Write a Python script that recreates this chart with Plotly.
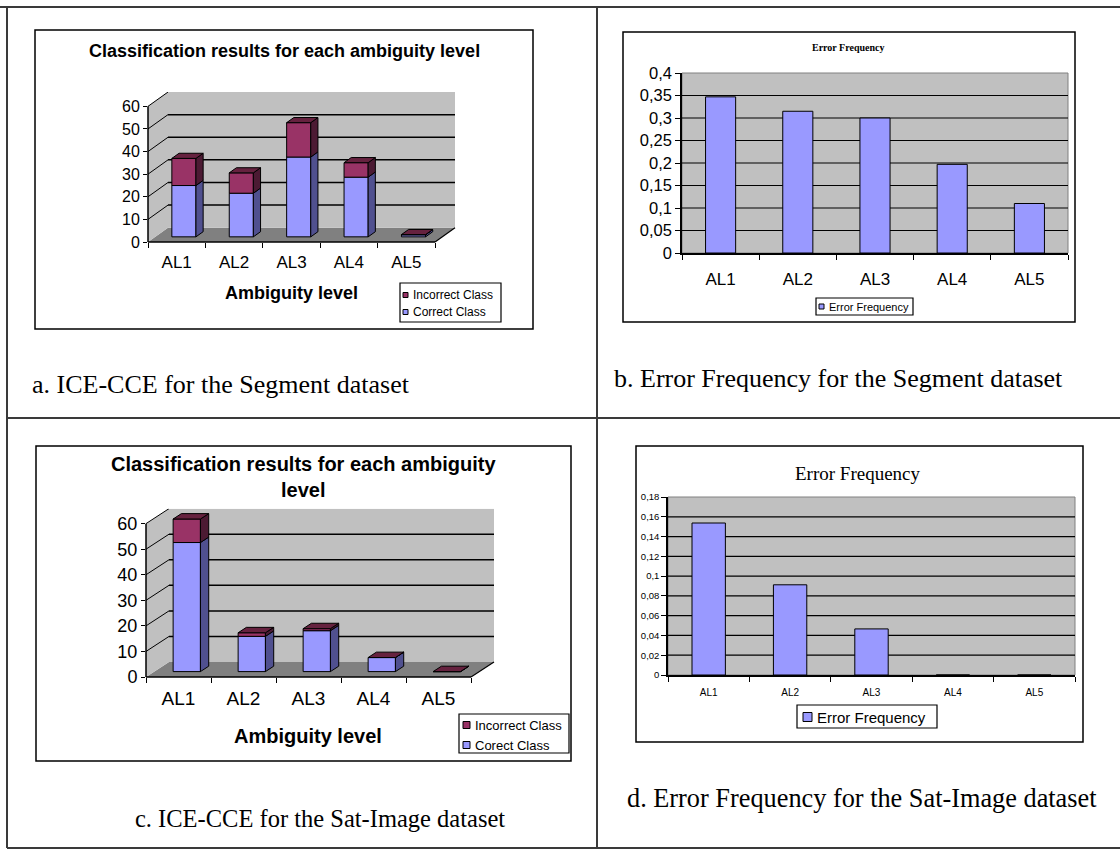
import plotly.graph_objects as go

W, H = 1120, 850

# ---------------------------------------------------------------- data
levels = ["AL1", "AL2", "AL3", "AL4", "AL5"]

# Segment dataset: classified samples per ambiguity level
seg_correct = [22.7, 19.3, 35.3, 26.4, 0.9]
seg_incorrect = [12.0, 9.0, 15.2, 6.4, 0.1]
# Segment dataset: error frequency per ambiguity level
seg_error = [0.347, 0.315, 0.300, 0.197, 0.110]

# Sat-Image dataset: classified samples per ambiguity level
sat_correct = [50.5, 13.8, 16.0, 5.5, 0.0]
sat_incorrect = [9.2, 1.4, 0.8, 0.0, 0.0]
# Sat-Image dataset: error frequency per ambiguity level
sat_error = [0.1537, 0.0912, 0.0466, 0.0, 0.0]

count_ticks = [0, 10, 20, 30, 40, 50, 60]
seg_err_ticks = [0, 0.05, 0.1, 0.15, 0.2, 0.25, 0.3, 0.35, 0.4]
seg_err_labels = ["0", "0,05", "0,1", "0,15", "0,2", "0,25", "0,3", "0,35", "0,4"]
sat_err_ticks = [0, 0.02, 0.04, 0.06, 0.08, 0.1, 0.12, 0.14, 0.16, 0.18]
sat_err_labels = ["0", "0,02", "0,04", "0,06", "0,08", "0,1", "0,12", "0,14", "0,16", "0,18"]

# ---------------------------------------------------------------- styling
SANS = "Liberation Sans, Arial, sans-serif"
SERIF = "Liberation Serif, Times New Roman, serif"

BLUE = "#9999ff"
BLUE_SIDE = "#50508f"
PLUM = "#993366"
PLUM_SIDE = "#4c1a33"
PLUM_TOP = "#66223f"
WALL = "#c0c0c0"
FLOOR = "#808080"
FRAME = "#3a3a3a"


def fx(px):
    return px / W


def fy(py):
    return 1 - py / H


fig = go.Figure()
shapes = []
annotations = []


def paper_line(x0, y0, x1, y1, color="black", width=1.5, layer="above"):
    shapes.append(dict(type="line", xref="paper", yref="paper",
                       x0=fx(x0), y0=fy(y0), x1=fx(x1), y1=fy(y1),
                       line=dict(color=color, width=width), layer=layer))


def paper_box(x0, y0, x1, y1, width=1.5, layer="below"):
    shapes.append(dict(type="rect", xref="paper", yref="paper",
                       x0=fx(x0), y0=fy(y1), x1=fx(x1), y1=fy(y0),
                       fillcolor="white", line=dict(color="black", width=width), layer=layer))


def text(x, y, s, size, family=SANS, xanchor="center", color="black"):
    annotations.append(dict(x=fx(x), y=fy(y), xref="paper", yref="paper", text=s,
                            showarrow=False, xanchor=xanchor, yanchor="middle",
                            font=dict(family=family, size=size, color=color)))


def legend_box(box, entries, sq, size):
    """box = (x0, y0, x1, y1); entries = [(label, color, y_center, x_marker)]"""
    paper_box(*box, width=1.2, layer="above")
    for label, color, yc, xm in entries:
        shapes.append(dict(type="rect", xref="paper", yref="paper",
                           x0=fx(xm), x1=fx(xm + sq), y0=fy(yc + sq / 2), y1=fy(yc - sq / 2),
                           fillcolor=color, line=dict(color="black", width=1), layer="above"))
        text(xm + sq + 3, yc, label, size, xanchor="left")


# ---------------------------------------------------------------- 3-D stacked columns
def stacked_3d(suffix, geo, correct, incorrect, fonts):
    xa, ya = "x" + suffix, "y" + suffix
    n = len(levels)
    top = count_ticks[-1]
    dxu = geo["ddx"] / geo["cat"]          # floor depth, in category units
    dyu = geo["ddy"] / geo["ppu"]          # floor depth, in value units
    df, db = 0.36, 0.72                    # front / back depth of the columns
    bw = 0.42
    right_px = geo["x0"] + n * geo["cat"] + geo["ddx"]
    top_px = geo["y0"] - top * geo["ppu"] - geo["ddy"]

    fig.update_layout({
        "xaxis" + suffix: dict(
            domain=[fx(geo["x0"]), fx(right_px)], range=[0, n + dxu], anchor=ya,
            tickmode="array", tickvals=[i + 0.5 for i in range(n)], ticktext=levels,
            ticks="", showgrid=False, zeroline=False, showline=False, fixedrange=True,
            automargin=False,
            tickfont=dict(family=SANS, size=fonts["x"], color="black"),
            ticklabelstandoff=fonts["xs"],
            minor=dict(tickmode="array", tickvals=list(range(n + 1)), ticks="outside",
                       ticklen=5, tickcolor="black", tickwidth=1, showgrid=False)),
        "yaxis" + suffix: dict(
            domain=[fy(geo["y0"]), fy(top_px)], range=[0, top + dyu], anchor=xa,
            tickmode="array", tickvals=count_ticks, ticks="outside", ticklen=4,
            tickcolor="black", showgrid=False, zeroline=False, showline=False,
            fixedrange=True, automargin=False,
            tickfont=dict(family=SANS, size=fonts["y"], color="black")),
    })

    ref = dict(xref=xa, yref=ya, layer="below")
    # floor, side wall, back wall
    shapes.append(dict(type="path", path=f"M0,0 L{n},0 L{n + dxu},{dyu} L{dxu},{dyu} Z",
                       fillcolor=FLOOR, line=dict(width=0), **ref))
    shapes.append(dict(type="path", path=f"M0,0 L{dxu},{dyu} L{dxu},{top + dyu} L0,{top} Z",
                       fillcolor=WALL, line=dict(width=0), **ref))
    shapes.append(dict(type="rect", x0=dxu, x1=n + dxu, y0=dyu, y1=top + dyu,
                       fillcolor=WALL, line=dict(width=0), **ref))
    # grid on back wall and side wall
    for v in count_ticks[1:-1]:
        shapes.append(dict(type="line", x0=dxu, x1=n + dxu, y0=v + dyu, y1=v + dyu,
                           line=dict(color="black", width=1.5), **ref))
    for v in count_ticks[1:]:
        shapes.append(dict(type="line", x0=0, x1=dxu, y0=v, y1=v + dyu,
                           line=dict(color="black", width=1), **ref))

    # front faces of the stacked columns
    xc = [i + 0.5 + df * dxu for i in range(n)]
    base0 = df * dyu
    fig.add_trace(go.Bar(x=xc, y=correct, base=[base0] * n, width=bw, name="Correct Class",
                         marker=dict(color=BLUE, line=dict(color="black", width=1)),
                         xaxis=xa, yaxis=ya, showlegend=False, hoverinfo="skip"))
    fig.add_trace(go.Bar(x=xc, y=incorrect, base=[base0 + c for c in correct], width=bw,
                         name="Incorrect Class",
                         marker=dict(color=PLUM, line=dict(color="black", width=1)),
                         xaxis=xa, yaxis=ya, showlegend=False, hoverinfo="skip"))

    # side and top faces
    sx, sy = (db - df) * dxu, (db - df) * dyu
    sc_x, sc_y, si_x, si_y, t_x, t_y = [], [], [], [], [], []
    for i in range(n):
        xl, xr = xc[i] - bw / 2, xc[i] + bw / 2
        b1 = base0 + correct[i]
        b2 = b1 + incorrect[i]
        sc_x += [xr, xr + sx, xr + sx, xr, xr, None]
        sc_y += [base0, base0 + sy, b1 + sy, b1, base0, None]
        si_x += [xr, xr + sx, xr + sx, xr, xr, None]
        si_y += [b1, b1 + sy, b2 + sy, b2, b1, None]
        t_x += [xl, xr, xr + sx, xl + sx, xl, None]
        t_y += [b2, b2, b2 + sy, b2 + sy, b2, None]
    for px_, py_, col in ((sc_x, sc_y, BLUE_SIDE), (si_x, si_y, PLUM_SIDE), (t_x, t_y, PLUM_TOP)):
        fig.add_trace(go.Scatter(x=px_, y=py_, mode="lines", fill="toself", fillcolor=col,
                                 line=dict(color="black", width=1), xaxis=xa, yaxis=ya,
                                 showlegend=False, hoverinfo="skip"))

    # front edges of the chart floor / value axis
    x0, y0 = geo["x0"], geo["y0"]
    xf = x0 + n * geo["cat"]
    paper_line(x0, y0, x0, y0 - top * geo["ppu"])
    paper_line(x0, y0, xf, y0)
    paper_line(xf, y0, xf + geo["ddx"], y0 - geo["ddy"], width=1.2)


# ---------------------------------------------------------------- 2-D error frequency columns
def error_columns(suffix, box, values, ticks, labels, bw, fonts):
    xa, ya = "x" + suffix, "y" + suffix
    fig.add_trace(go.Bar(x=levels, y=values, width=bw, name="Error Frequency",
                         marker=dict(color=BLUE, line=dict(color="black", width=1)),
                         xaxis=xa, yaxis=ya, showlegend=False, hoverinfo="skip"))
    fig.update_layout({
        "xaxis" + suffix: dict(
            domain=[fx(box[0]), fx(box[2])], anchor=ya, type="category",
            range=[-0.5, len(levels) - 0.5], tickson="boundaries", ticks="outside",
            ticklen=5, tickcolor="black", showline=True, linecolor="black", linewidth=1.5,
            showgrid=False, zeroline=False, fixedrange=True, automargin=False,
            tickfont=dict(family=SANS, size=fonts["x"], color="black"),
            ticklabelstandoff=fonts["xs"]),
        "yaxis" + suffix: dict(
            domain=[fy(box[3]), fy(box[1])], anchor=xa, range=[0, ticks[-1]],
            tickmode="array", tickvals=ticks, ticktext=labels, ticks="outside", ticklen=5,
            tickcolor="black", showline=True, linecolor="black", linewidth=1.5,
            showgrid=False, zeroline=False, fixedrange=True, automargin=False,
            tickfont=dict(family=SANS, size=fonts["y"], color="black")),
    })
    # grey plot area with its frame, then the value grid (top edge left grey)
    shapes.append(dict(type="rect", xref=xa + " domain", yref=ya + " domain",
                       x0=0, x1=1, y0=0, y1=1, fillcolor=WALL,
                       line=dict(color="#808080", width=1), layer="below"))
    for v in ticks[1:-1]:
        shapes.append(dict(type="line", xref=xa + " domain", yref=ya, x0=0, x1=1, y0=v, y1=v,
                           line=dict(color="black", width=1.2), layer="below"))


# ---------------------------------------------------------------- table frame
for x in (7, 597):
    paper_line(x, 7, x, 848, color=FRAME, width=2)
for y in (7, 418, 848):
    paper_line(0 if y == 7 else 7, y, 1120, y, color=FRAME, width=2)

# chart boxes
paper_box(35, 30, 533, 329)
paper_box(623, 32, 1075, 322)
paper_box(36, 446, 571, 761)
paper_box(636, 446, 1083, 742)

# ---------------------------------------------------------------- panels
stacked_3d("", dict(x0=148, y0=242, ppu=2.261, cat=57.4, ddx=20, ddy=14.3),
           seg_correct, seg_incorrect, dict(x=17, y=16, xs=8))
error_columns("2", (682, 73, 1068, 253), seg_error, seg_err_ticks, seg_err_labels,
              0.39, dict(x=17, y=16.5, xs=10))
stacked_3d("3", dict(x0=146, y0=677, ppu=2.556, cat=65.0, ddx=23, ddy=15.0),
           sat_correct, sat_incorrect, dict(x=19, y=18, xs=8))
error_columns("4", (668, 497, 1075, 675), sat_error, sat_err_ticks, sat_err_labels,
              0.41, dict(x=10, y=9.5, xs=7))

# titles, axis titles
text(284, 51, "<b>Classification results for each ambiguity level</b>", 18)
text(291, 293, "<b>Ambiguity level</b>", 18)
text(848, 47, "<b>Error Frequency</b>", 10, family=SERIF)
text(303, 477, "<b>Classification results for each ambiguity<br>level</b>", 20)
text(308, 736, "<b>Ambiguity level</b>", 20)
text(858, 473, "Error Frequency", 19, family=SERIF)

# legends
legend_box((400, 283, 501, 322),
           [("Incorrect Class", PLUM, 295, 403), ("Correct Class", BLUE, 312, 403)], 5, 12)
legend_box((816, 298, 913, 315), [("Error Frequency", BLUE, 306.5, 819)], 5, 11)
legend_box((459, 714, 569, 753),
           [("Incorrect Class", PLUM, 725, 463), ("Corect Class", BLUE, 745, 463)], 7, 13)
legend_box((797, 705, 937, 728), [("Error Frequency", BLUE, 717, 803)], 9, 15)

# captions
text(30, 385, "a. ICE-CCE for the Segment dataset", 26, family=SERIF, xanchor="left")
text(612, 378, "b. Error Frequency for the Segment dataset", 26, family=SERIF, xanchor="left")
text(133, 818, "c. ICE-CCE for the Sat-Image dataset", 24.5, family=SERIF, xanchor="left")
text(625, 798, "d. Error Frequency for the Sat-Image dataset", 26.3, family=SERIF, xanchor="left")

fig.update_layout(
    width=W, height=H, autosize=False,
    margin=dict(l=0, r=0, t=0, b=0, pad=0, autoexpand=False),
    paper_bgcolor="white", plot_bgcolor="rgba(0,0,0,0)",
    showlegend=False, barmode="overlay",
    shapes=shapes, annotations=annotations,
)

fig.write_html("out.html")
